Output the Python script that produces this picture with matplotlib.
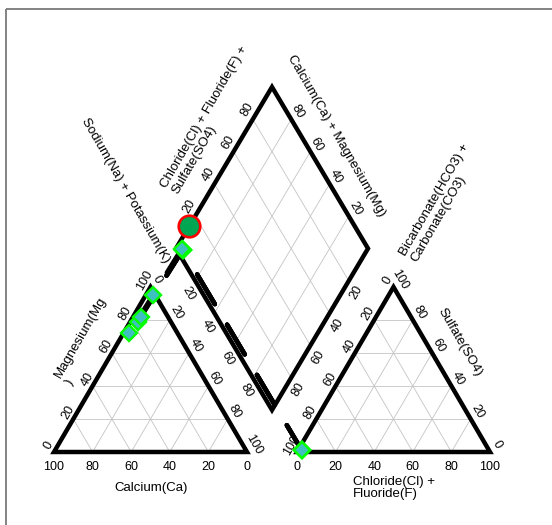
import numpy as np
import matplotlib.pyplot as plt
from matplotlib.patches import Polygon, Rectangle

plt.rcParams['font.family'] = ['Liberation Sans', 'DejaVu Sans']
plt.rcParams['lines.scale_dashes'] = False

# Cation composition of each sample (% meq)
sample_ca = [1, 14, 17, 25]
sample_mg = [95, 82, 79, 72]
sample_nak = [4, 4, 4, 3]
# Anion composition of each sample (% meq)
sample_hco3 = [97, 97, 97, 97]
sample_cl = [2, 2, 2, 2]
sample_so4 = [1, 1, 1, 1]

# Highlighted point plotted in the diamond only
ref_nak = 0
ref_clso4 = 14

ticks = [0, 20, 40, 60, 80, 100]
inner_ticks = [20, 40, 60, 80]

# Layout, in canvas pixels (y grows downwards)
CAT_TRI = {'ca': (54, 452), 'mg': (150.5, 287), 'nak': (247, 452)}
AN_TRI = {'hco3': (297, 452), 'so4': (393.5, 287), 'cl': (490, 452)}
DIA_L, DIA_T = np.array([176, 248.5]), np.array([272, 87])
DIA_B, DIA_R = np.array([272, 410]), np.array([368, 248.5])

EDGE_LW = 3.2
GRID_KW = dict(color='#C4C4C4', lw=0.6, zorder=1)
TICK_FS = 9
TITLE_FS = 9.5


def tern(corners, parts):
    """Barycentric position from three percentages."""
    pts = np.array(corners, dtype=float)
    w = np.asarray(parts, dtype=float) / 100.0
    return w @ pts


def cat_xy(ca, mg, nak):
    return tern([CAT_TRI['ca'], CAT_TRI['mg'], CAT_TRI['nak']], [ca, mg, nak])


def an_xy(hco3, so4, cl):
    return tern([AN_TRI['hco3'], AN_TRI['so4'], AN_TRI['cl']], [hco3, so4, cl])


def dia_xy(nak, clso4):
    return DIA_L + clso4 / 100.0 * (DIA_T - DIA_L) + nak / 100.0 * (DIA_B - DIA_L)


def seg(ax, p, q, **kw):
    ax.plot([p[0], q[0]], [p[1], q[1]], **kw)


fig = plt.figure(figsize=(5.52, 5.25), dpi=100)
ax = fig.add_axes([0, 0, 1, 1])
ax.set_xlim(0, 552)
ax.set_ylim(525, 0)
ax.axis('off')

ax.add_patch(Rectangle((6, 8.5), 700, 700, fill=False, ec='#7A7A7A', lw=1.3, zorder=0))

# grids
for v in inner_ticks:
    w = 100 - v
    seg(ax, cat_xy(w, v, 0), cat_xy(0, v, w), **GRID_KW)
    seg(ax, cat_xy(v, w, 0), cat_xy(v, 0, w), **GRID_KW)
    seg(ax, cat_xy(w, 0, v), cat_xy(0, w, v), **GRID_KW)
    seg(ax, an_xy(w, v, 0), an_xy(0, v, w), **GRID_KW)
    seg(ax, an_xy(v, w, 0), an_xy(v, 0, w), **GRID_KW)
    seg(ax, an_xy(w, 0, v), an_xy(0, w, v), **GRID_KW)
    seg(ax, dia_xy(v, 0), dia_xy(v, 100), **GRID_KW)
    seg(ax, dia_xy(0, v), dia_xy(100, v), **GRID_KW)

# outlines
frame_kw = dict(closed=True, fill=False, ec='black', lw=EDGE_LW, joinstyle='miter', zorder=3)
ax.add_patch(Polygon([CAT_TRI['ca'], CAT_TRI['mg'], CAT_TRI['nak']], **frame_kw))
ax.add_patch(Polygon([AN_TRI['hco3'], AN_TRI['so4'], AN_TRI['cl']], **frame_kw))
ax.add_patch(Polygon([DIA_L, DIA_T, DIA_R, DIA_B], **frame_kw))

# tick labels
def tick(x, y, v, rot=0):
    ax.text(x, y, str(v), fontsize=TICK_FS, rotation=rot, ha='center', va='center')

for v in ticks:
    w = 100 - v
    x, _ = cat_xy(v, 0, w)
    tick(x, 467, v)
    x, y = cat_xy(w, v, 0)
    tick(x - 5.5, y - 7, v, 60)
    x, y = cat_xy(0, w, v)
    tick(x + 6.5, y - 7, v, -60)
    x, _ = an_xy(w, 0, v)
    tick(x, 467, v)
    x, y = an_xy(v, w, 0)
    tick(x - 5.5, y - 7, v, 60)
    x, y = an_xy(0, v, w)
    tick(x + 6.5, y - 7, v, -60)

for v in inner_ticks:
    x, y = dia_xy(0, v)
    tick(x - 5.5, y - 9.5, v, 60)
    x, y = dia_xy(100 - v, 100)
    tick(x + 6.3, y - 7.3, v, -60)
    x, y = dia_xy(v, 0)
    tick(x - 6.5, y + 13, v, -60)
    x, y = dia_xy(100, 100 - v)
    tick(x + 7.5, y + 12, v, 60)

# axis titles
title_kw = dict(fontsize=TITLE_FS, ha='center', va='center', linespacing=1.1, multialignment='left')
ax.text(151.4, 488.5, 'Calcium(Ca)', **title_kw)
ax.text(394, 488, 'Chloride(Cl) +\nFluoride(F)', **title_kw)
ax.text(86, 341, 'Magnesium(Mg\n)', rotation=60, **title_kw)
ax.text(125, 190.5, 'Sodium(Na) + Potassium(K)', rotation=-60, **title_kw)
ax.text(210, 120, 'Chloride(Cl) + Fluoride(F) +\nSulfate(SO4)', rotation=60, **title_kw)
ax.text(336, 136, 'Calcium(Ca) + Magnesium(Mg)', rotation=-60, **title_kw)
ax.text(440, 203, 'Bicarbonate(HCO3) +\nCarbonate(CO3)', rotation=60, **title_kw)
ax.text(460, 342, 'Sulfate(SO4)', rotation=-60, **title_kw)

# projection lines: anion point -> diamond point -> cation point
cat_pts = [cat_xy(a, b, c) for a, b, c in zip(sample_ca, sample_mg, sample_nak)]
an_pts = [an_xy(a, b, c) for a, b, c in zip(sample_hco3, sample_so4, sample_cl)]
dia_pts = [dia_xy(n, c + s) for n, c, s in zip(sample_nak, sample_cl, sample_so4)]

for cp, ap, dp in zip(cat_pts, an_pts, dia_pts):
    path = np.array([ap, dp, cp])
    ax.plot(path[:, 0], path[:, 1], color='black', lw=EDGE_LW,
            linestyle=(3.8, (24.9, 17.2)), dash_capstyle='round', zorder=4)

marker_kw = dict(marker='D', ms=8.6, mfc='#3FC0C0', mec='#00FF00', mew=1.7, ls='none', zorder=5)
for pts in (cat_pts[::-1], an_pts, dia_pts):
    pts = np.array(pts)
    ax.plot(pts[:, 0], pts[:, 1], **marker_kw)

rx, ry = dia_xy(ref_nak, ref_clso4)
ax.plot(rx, ry, marker='o', ms=15.5, mfc='#00A651', mec='#FF0000', mew=1.9, ls='none', zorder=6)

fig.savefig('out.png', dpi=100)
